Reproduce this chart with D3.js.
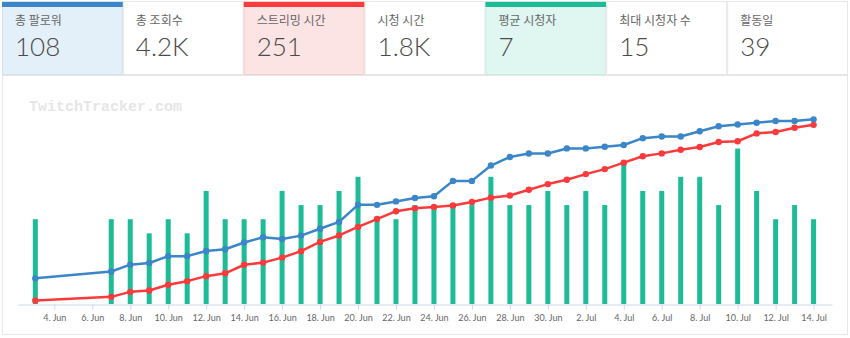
<!DOCTYPE html>
<html><head><meta charset="utf-8">
<script src="https://cdn.jsdelivr.net/npm/d3@7"></script>
<style>
html,body{margin:0;padding:0;background:#fff;}
svg{display:block;}
</style></head>
<body>
<svg id="c" width="850" height="338"></svg>
<script>
// ---- data ----
const cardLabels = ["총 팔로워","총 조회수","스트리밍 시간","시청 시간","평균 시청자","최대 시청자 수","활동일"];
const cardValues = ["108","4.2K","251","1.8K","7","15","39"];
const cardAccent = ["blue",null,"red",null,"teal",null,null];

const dates = ["2023-06-03","2023-06-07","2023-06-08","2023-06-09","2023-06-10","2023-06-11","2023-06-12","2023-06-13","2023-06-14","2023-06-15","2023-06-16","2023-06-17","2023-06-18","2023-06-19","2023-06-20","2023-06-21","2023-06-22","2023-06-23","2023-06-24","2023-06-25","2023-06-26","2023-06-27","2023-06-28","2023-06-29","2023-06-30","2023-07-01","2023-07-02","2023-07-03","2023-07-04","2023-07-05","2023-07-06","2023-07-07","2023-07-08","2023-07-09","2023-07-10","2023-07-11","2023-07-12","2023-07-13","2023-07-14"];
const viewers = [6,6,6,5,6,5,8,6,6,6,8,7,7,8,9,6,6,7,7,7,7,9,7,7,8,7,8,7,10,8,8,9,9,7,11,8,6,7,6];
const followers = [15,19,23,24,28,28,31,32,36,39,38,40,44,48,58,58,60,62,63,72,72,81,86,88,88,91,91,92,93,97,98,98,101,104,105,106,107,107,108];
const streamHours = [5,10,17,19,27,32,39,43,55,58,65,74,87,96,108,119,130,134,136,138,143,149,152,160,168,174,182,189,198,207,211,216,220,227,228,239,241,247,251];
const tickDates = ["2023-06-04","2023-06-06","2023-06-08","2023-06-10","2023-06-12","2023-06-14","2023-06-16","2023-06-18","2023-06-20","2023-06-22","2023-06-24","2023-06-26","2023-06-28","2023-06-30","2023-07-02","2023-07-04","2023-07-06","2023-07-08","2023-07-10","2023-07-12","2023-07-14"];

// ---- drawing ----
const svg = d3.select("#c");
const colors = {blue:"#3a86c8", red:"#fb3a3c", teal:"#1dbc97"};
const bg = {blue:"#e3eff9", red:"#fde4e4", teal:"#e0f6f1"};
const bd = {blue:"#cfe2f2", red:"#f3cfcf", teal:"#c9ece2"};

// cards
const cardX = d3.scaleBand().domain(d3.range(cardLabels.length)).range([2, 848]).paddingInner(0);
const cards = svg.selectAll("g.card").data(cardLabels).join("g")
  .attr("transform",(d,i)=>`translate(${cardX(i)},1)`);
cards.append("rect")
  .attr("x",0.5).attr("y",0.5).attr("width",cardX.bandwidth()-1).attr("height",73)
  .attr("fill",(d,i)=>cardAccent[i]?bg[cardAccent[i]]:"#fff")
  .attr("stroke",(d,i)=>cardAccent[i]?bd[cardAccent[i]]:"#e8e8e8");
cards.filter((d,i)=>cardAccent[i]).append("rect")
  .attr("x",0).attr("y",1).attr("width",cardX.bandwidth()).attr("height",5)
  .attr("fill",(d,i)=>colors[cardAccent[cardLabels.indexOf(d)]]);
cards.append("text").attr("x",13).attr("y",24)
  .attr("font-family","'Noto Sans CJK KR','Noto Sans',sans-serif").attr("font-size",12)
  .attr("fill","#666").text(d=>d);
cards.append("text").attr("x",13).attr("y",55)
  .attr("font-family","Lato,'Noto Sans',sans-serif").attr("font-weight",300).attr("font-size",26)
  .attr("fill","#4a4a4a").text((d,i)=>cardValues[i]);

// chart panel
svg.append("rect").attr("x",2.5).attr("y",75.5).attr("width",845).attr("height",259)
  .attr("fill","#fff").attr("stroke","#e6e6e6");
svg.append("text").attr("x",29).attr("y",111)
  .attr("font-family","'Liberation Mono','DejaVu Sans Mono',monospace").attr("font-weight","bold")
  .attr("font-size",15).attr("fill","#e6e6e6").text("TwitchTracker.com");

const parse = d3.utcParse("%Y-%m-%d");
const dayMs = 864e5;
const ref = parse("2023-06-04").getTime();
const x = d3.scaleUtc().domain([new Date(ref-1.913*dayMs), new Date(ref+40.97*dayMs)]).range([18,832]);
const yBar = d3.scaleLinear().domain([0,15]).range([304,92]);
const yF = d3.scaleLinear().domain([0,124]).range([304,92]);
const yH = d3.scaleLinear().domain([0,297]).range([304,92]);

const pts = dates.map((d,i)=>({date:parse(d), v:viewers[i], f:followers[i], h:streamHours[i]}));

// axis
const xAxis = d3.axisBottom(x).tickValues(tickDates.map(parse)).tickFormat(d3.utcFormat("%-d. %b")).tickSize(5).tickSizeOuter(0);
const ax = svg.append("g").attr("transform","translate(0,304.5)").call(xAxis);
ax.select(".domain").attr("stroke","#ccd6eb");
ax.selectAll(".tick line").attr("stroke","#ccd6eb");
ax.selectAll(".tick text").attr("fill","#666").attr("font-family","Lato,'Noto Sans',sans-serif").attr("font-size",9).attr("dy","0.9em");

// bars
svg.append("g").selectAll("rect").data(pts).join("rect")
  .attr("x",d=>x(d.date)-2.5).attr("width",5)
  .attr("y",d=>yBar(d.v)).attr("height",d=>yBar(0)-yBar(d.v))
  .attr("fill",colors.teal);

// lines
function drawLine(key, scale, color){
  const line = d3.line().x(d=>x(d.date)).y(d=>scale(d[key]));
  svg.append("path").datum(pts).attr("d",line).attr("fill","none")
    .attr("stroke",color).attr("stroke-width",2.5).attr("stroke-linejoin","round");
  svg.append("g").selectAll("circle").data(pts).join("circle")
    .attr("cx",d=>x(d.date)).attr("cy",d=>scale(d[key])).attr("r",3.2).attr("fill",color);
}
drawLine("h", yH, colors.red);
drawLine("f", yF, colors.blue);
</script>
</body></html>
